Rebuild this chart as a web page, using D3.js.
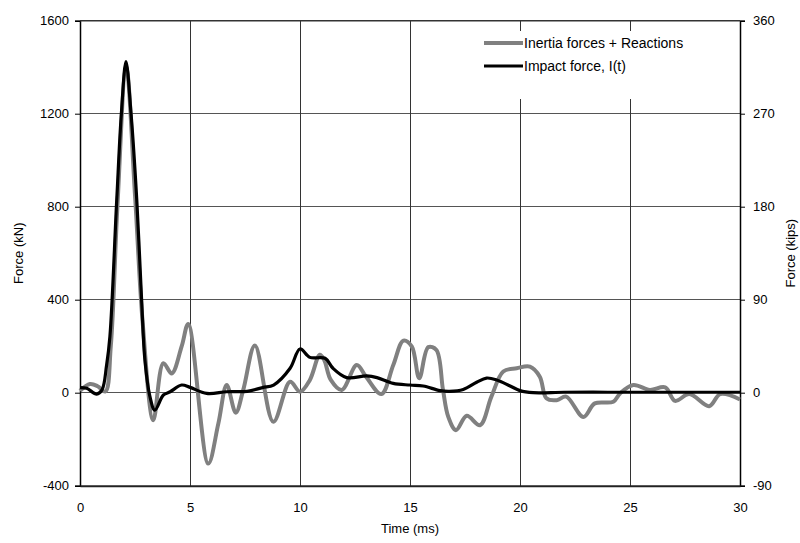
<!DOCTYPE html>
<html>
<head>
<meta charset="utf-8">
<script src="https://cdn.jsdelivr.net/npm/d3@7"></script>
<style>
	body { margin: 0; background: #fff; }
	svg { font-family: "Liberation Sans", Arial, sans-serif; }
</style>
</head>
<body>
<div id="chart"></div>
<script>
// inertia forces + reactions (kN)
var inertiaTime  = [0, 0.45, 0.8, 1.15, 1.4, 1.7, 2.1, 2.5, 2.85, 3.33, 3.79, 4.17, 4.62, 4.92, 5.83, 6.29, 6.67, 7.08, 7.42, 7.95, 8.79, 9.55, 10, 10.45, 10.9, 11.1, 11.4, 11.9, 12.58, 13.0, 13.7, 14.24, 14.7, 15.08, 15.42, 15.83, 16.2, 16.5, 16.74, 17.09, 17.58, 18.18, 18.7, 19.24, 19.85, 20.45, 20.9, 21.2, 21.67, 22.1, 22.88, 23.4, 24.24, 24.55, 25.15, 25.9, 26.6, 27.05, 27.7, 28.6, 29.1, 30];
var inertiaForce = [8, 37, 28, 5, 200, 800, 1400, 850, 300, -118, 127, 83, 199, 296, -305, -132, 33, -86, 12, 203, -125, 47, 4, 55, 163, 141, 55, 12, 119, 69, -6, 119, 224, 199, 62, 196, 184, 12, -104, -161, -99, -140, -17, 91, 105, 112, 69, -24, -32, -17, -104, -46, -39, -3, 33, 12, 23, -35, -6, -58, -6, -29];

// impact force I(t) (kN)
var impactTime  = [0, 0.3, 0.76, 1.0, 1.21, 1.36, 1.67, 1.88, 2.09, 2.32, 2.58, 2.8, 2.95, 3.18, 3.4, 3.79, 4.1, 4.62, 5, 5.76, 6.67, 7.6, 8.3, 8.8, 9.55, 10, 10.45, 11.14, 11.5, 12.12, 13.03, 13.5, 14.24, 15, 15.6, 16.36, 16.8, 17.42, 18.03, 18.48, 18.94, 19.55, 20, 20.6, 22, 24, 26, 28, 30];
var impactForce = [22, 19, -6, 12, 119, 242, 829, 1200, 1424, 1200, 829, 400, 141, -17, -75, -10, 4, 33, 23, -3, 4, 6, 22, 33, 105, 188, 152, 148, 105, 65, 72, 65, 40, 33, 29, 9, 6, 14, 45, 63, 55, 29, 9, 0, 2, 2, 2, 2, 2];

var xTicks = [0, 5, 10, 15, 20, 25, 30];
var kNTicks = [-400, 0, 400, 800, 1200, 1600];
var kipTicks = [-90, 0, 90, 180, 270, 360];
var seriesNames = ['Inertia forces + Reactions', 'Impact force, I(t)'];

var W = 800, H = 543;
var margin = {top: 20.7, right: 60, bottom: 57.3, left: 80};
var plain = d => String(d);

var svg = d3.select('#chart').append('svg')
	.attr('width', W)
	.attr('height', H);

var x = d3.scaleLinear().domain([0, 30]).range([margin.left, W - margin.right]);
var y = d3.scaleLinear().domain([-400, 1600]).range([H - margin.bottom, margin.top]);
var yKip = d3.scaleLinear().domain([-90, 360]).range([H - margin.bottom, margin.top]);

// grid
var grid = svg.append('g').attr('shape-rendering', 'crispEdges');
grid.selectAll('line.h')
	.data(kNTicks.slice(1))
	.enter().append('line')
	.attr('class', 'h')
	.attr('x1', x(0)).attr('x2', x(30))
	.attr('y1', d => y(d)).attr('y2', d => y(d))
	.attr('stroke', '#555').attr('stroke-width', 1);
grid.selectAll('line.v')
	.data(xTicks.slice(1, -1))
	.enter().append('line')
	.attr('class', 'v')
	.attr('x1', d => x(d)).attr('x2', d => x(d))
	.attr('y1', y(1600)).attr('y2', y(-400))
	.attr('stroke', '#333').attr('stroke-width', 1);

// legend background hides the grid under it
svg.append('rect')
	.attr('x', 478).attr('y', 31)
	.attr('width', 259).attr('height', 68)
	.attr('fill', '#fff');

// axes
var leftAxis = svg.append('g')
	.attr('transform', 'translate(' + margin.left + ',0)')
	.call(d3.axisLeft(y).tickValues(kNTicks).tickFormat(plain).tickSize(5).tickPadding(6));
var rightAxis = svg.append('g')
	.attr('transform', 'translate(' + (W - margin.right) + ',0)')
	.call(d3.axisRight(yKip).tickValues(kipTicks).tickFormat(plain).tickSize(5).tickPadding(8));
var bottomAxis = svg.append('g')
	.attr('transform', 'translate(0,' + (H - margin.bottom) + ')')
	.call(d3.axisBottom(x).tickValues(xTicks).tickFormat(plain).tickSize(0).tickPadding(17));

[leftAxis, rightAxis, bottomAxis].forEach(function(a){
	a.selectAll('text').attr('font-size', 13).attr('fill', '#000')
		.attr('font-family', '"Liberation Sans", Arial, sans-serif');
	a.selectAll('.tick line').attr('stroke', '#000');
	a.select('.domain').attr('stroke', '#000').attr('stroke-width', 1.5);
});
bottomAxis.select('.domain').attr('stroke', '#222').attr('stroke-width', 2);

svg.append('line')
	.attr('x1', x(0)).attr('x2', x(30))
	.attr('y1', y(1600)).attr('y2', y(1600))
	.attr('stroke', '#333').attr('stroke-width', 1.5);

// lines
var inertia = inertiaTime.map((t, i) => [t, inertiaForce[i]]);
var impact = impactTime.map((t, i) => [t, impactForce[i]]);

var line = d3.line()
	.x(d => x(d[0]))
	.y(d => y(d[1]))
	.curve(d3.curveCatmullRom.alpha(0.5));

svg.append('path')
	.datum(inertia)
	.attr('d', line)
	.attr('fill', 'none')
	.attr('stroke', '#808080')
	.attr('stroke-width', 4)
	.attr('stroke-linejoin', 'round');

svg.append('path')
	.datum(impact)
	.attr('d', line)
	.attr('fill', 'none')
	.attr('stroke', '#000')
	.attr('stroke-width', 3.2)
	.attr('stroke-linejoin', 'round');

// legend
var legendColors = ['#808080', '#000'];
var legendWidths = [4, 3];
var legend = svg.selectAll('g.legend')
	.data(seriesNames)
	.enter().append('g')
	.attr('class', 'legend')
	.attr('transform', (d, i) => 'translate(484,' + (43 + i * 23) + ')');
legend.append('line')
	.attr('x1', 0).attr('x2', 39)
	.attr('stroke', (d, i) => legendColors[i])
	.attr('stroke-width', (d, i) => legendWidths[i]);
legend.append('text')
	.attr('x', 40).attr('y', 5)
	.attr('font-size', 14)
	.text(d => d);

// axis titles
svg.append('text')
	.attr('transform', 'translate(23,' + y(600) + ') rotate(-90)')
	.attr('text-anchor', 'middle')
	.attr('font-size', 13)
	.text('Force (kN)');
svg.append('text')
	.attr('transform', 'translate(795,' + y(600) + ') rotate(-90)')
	.attr('text-anchor', 'middle')
	.attr('font-size', 13)
	.text('Force (kips)');
svg.append('text')
	.attr('x', x(15)).attr('y', 533)
	.attr('text-anchor', 'middle')
	.attr('font-size', 13)
	.text('Time (ms)');
</script>
</body>
</html>
